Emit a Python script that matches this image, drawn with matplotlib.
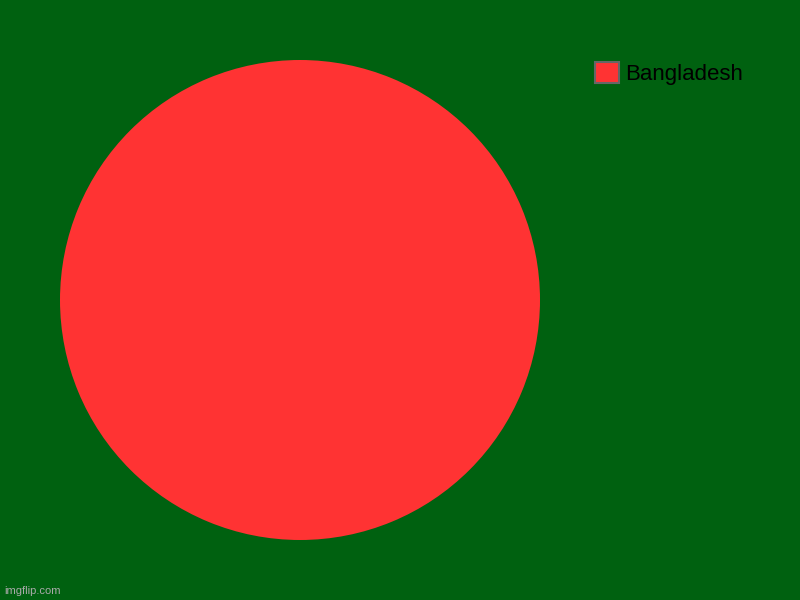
import matplotlib.pyplot as plt
from matplotlib.patches import Patch

# données du graphique
labels = ["Bangladesh"]
valeurs = [1]
couleurs = ["#ff3333"]
fond = "#006110"

fig = plt.figure(figsize=(8, 6), dpi=100, facecolor=fond)
ax = fig.add_axes([60 / 800, 60 / 600, 480 / 800, 480 / 600])
ax.set_facecolor(fond)
ax.pie(valeurs, colors=couleurs, radius=1, startangle=90,
       wedgeprops=dict(linewidth=0))
ax.set_xlim(-1, 1)
ax.set_ylim(-1, 1)
ax.set_aspect("equal")
ax.axis("off")

# légende en haut à droite
poignees = [Patch(facecolor=c, edgecolor="#666666", linewidth=1.5) for c in couleurs]
fig.legend(poignees, labels, loc="upper left", bbox_to_anchor=(575 / 800, 1 - 42 / 600),
           frameon=False, prop={"family": "Liberation Sans", "size": 16},
           handlelength=1.1, handleheight=1.1, handletextpad=0.25)

fig.text(4 / 800, 4 / 600, "imgflip.com", color="#aaaaaa", fontsize=8,
         family="Liberation Sans", ha="left", va="bottom")

fig.savefig("out.png", dpi=100, facecolor=fond)
